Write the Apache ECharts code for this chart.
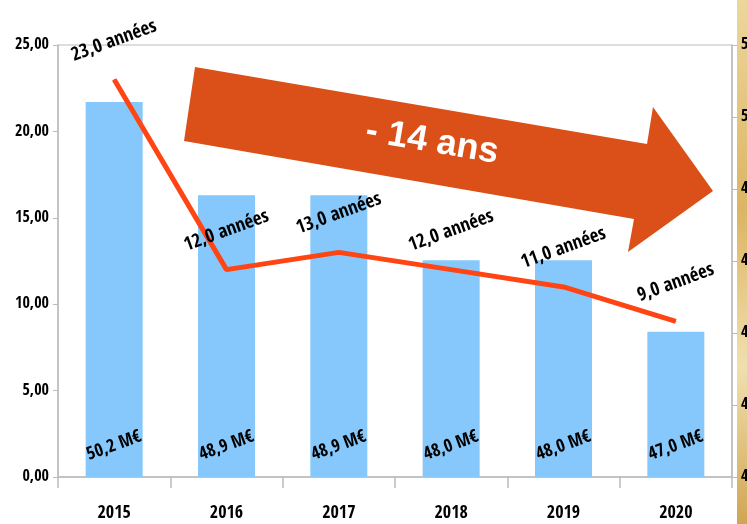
<!DOCTYPE html>
<html>
<head>
<meta charset="utf-8">
<script src="https://cdn.jsdelivr.net/npm/echarts@6/dist/echarts.min.js"></script>
<style>
  html, body { margin: 0; padding: 0; background: #fff; }
  #main { width: 747px; height: 524px; }
</style>
</head>
<body>
<div id="main"></div>
<script>
// données
const annees = ['2015', '2016', '2017', '2018', '2019', '2020']
const barres = [21.7, 16.3, 16.3, 12.55, 12.55, 8.4]
const montants = [50.2, 48.9, 48.9, 48.0, 48.0, 47.0]
const duree = [23, 12, 13, 12, 11, 9]
const gaucheTicks = { min: 0, max: 25, interval: 5 }
const droiteTicks = { min: 45, max: 51, interval: 1 }

const police = "'Open Sans Condensed', 'DejaVu Sans Condensed', sans-serif"
const virgule = (v, n) => v.toFixed(n).replace('.', ',')

const myChart = echarts.init(document.getElementById('main'))

const option = {
  backgroundColor: '#fff',
  animation: false,
  grid: {
    left: 58,
    right: 15,
    top: 45,
    bottom: 47,
    outerBoundsMode: 'none',
    show: true,
    borderColor: '#bbb',
    borderWidth: 1
  },
  xAxis: {
    type: 'category',
    data: annees,
    axisLine: { lineStyle: { color: '#bbb', width: 1.5 } },
    axisTick: { show: true, length: 11, lineStyle: { color: '#bbb', width: 1.5 } },
    axisLabel: {
      color: '#000',
      fontFamily: police,
      fontWeight: 'bold',
      fontSize: 18,
      margin: 27
    }
  },
  yAxis: [
    {
      type: 'value',
      min: gaucheTicks.min,
      max: gaucheTicks.max,
      interval: gaucheTicks.interval,
      z: 5,
      axisLine: { show: true, lineStyle: { color: '#bbb', width: 1.5 } },
      axisTick: { show: true, length: 5, lineStyle: { color: '#bbb' } },
      splitLine: { show: false },
      axisLabel: {
        color: '#000',
        fontFamily: police,
        fontWeight: 'bold',
        fontSize: 16,
        margin: 9,
        formatter: v => virgule(v, 2)
      }
    },
    {
      type: 'value',
      position: 'right',
      min: droiteTicks.min,
      max: droiteTicks.max,
      interval: droiteTicks.interval,
      z: 5,
      axisLine: { show: true, lineStyle: { color: '#bbb', width: 1.5 } },
      axisTick: { show: true, length: 5, lineStyle: { color: '#bbb' } },
      splitLine: { show: false },
      axisLabel: {
        color: '#000',
        fontFamily: police,
        fontWeight: 'bold',
        fontSize: 16,
        margin: 9,
        formatter: v => virgule(v, 2)
      }
    }
  ],
  graphic: [
    {
      // bande dorée à droite
      type: 'rect',
      z: 1,
      shape: { x: 737, y: 0, width: 10, height: 524 },
      style: {
        fill: {
          type: 'linear', x: 0, y: 0, x2: 1, y2: 1,
          colorStops: [
            { offset: 0, color: '#ecd79c' },
            { offset: 0.4, color: '#dcb463' },
            { offset: 0.7, color: '#f0e0ae' },
            { offset: 1, color: '#d0a552' }
          ]
        }
      }
    },
    {
      // grosse flèche
      type: 'polygon',
      z: 20,
      shape: {
        points: [[195, 67], [647, 144], [653, 107], [713, 191], [628, 252], [634, 219], [184, 141]]
      },
      style: { fill: '#da5018' }
    },
    {
      type: 'text',
      z: 21,
      x: 432,
      y: 142,
      rotation: -0.17,
      style: {
        text: '- 14 ans',
        fill: '#fff',
        font: "bold 36px 'Liberation Sans', Arial, sans-serif",
        align: 'center',
        verticalAlign: 'middle'
      }
    }
  ],
  series: [
    {
      type: 'bar',
      yAxisIndex: 0,
      data: barres,
      barWidth: 57,
      itemStyle: { color: '#86c8fb' },
      label: {
        show: true,
        position: 'insideBottom',
        distance: 31,
        rotate: 20,
        align: 'center',
        verticalAlign: 'middle',
        color: '#000',
        fontFamily: police,
        fontWeight: 'bold',
        fontSize: 18,
        formatter: p => virgule(montants[p.dataIndex], 1) + ' M€'
      }
    },
    {
      type: 'line',
      yAxisIndex: 0,
      data: duree,
      symbol: 'circle',
      symbolSize: 1,
      z: 10,
      lineStyle: { color: '#ff4513', width: 5, cap: 'butt' },
      itemStyle: { color: '#ff4513' },
      label: {
        show: true,
        position: 'top',
        distance: 38,
        rotate: 20,
        align: 'center',
        verticalAlign: 'middle',
        color: '#000',
        fontFamily: police,
        fontWeight: 'bold',
        fontSize: 19,
        formatter: p => virgule(p.value, 1) + ' années'
      }
    }
  ]
}

myChart.setOption(option)
</script>
</body>
</html>
